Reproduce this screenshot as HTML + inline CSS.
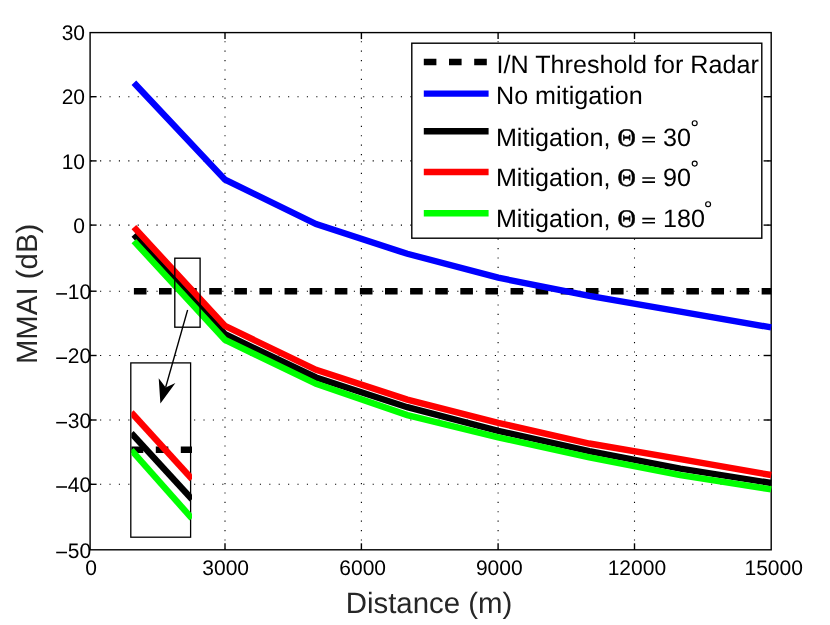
<!DOCTYPE html>
<html><head><meta charset="utf-8"><title>MMAI vs Distance</title>
<style>
html,body{margin:0;padding:0;background:#fff;}
body{width:830px;height:625px;overflow:hidden;}
svg{display:block;will-change:transform;}
text{font-family:"Liberation Sans",sans-serif;fill:#000;text-rendering:geometricPrecision;}
.tk{font-size:21px;}
.lg{font-size:25.15px;}
.ax{font-size:29.4px;fill:#262626;}
.th{font-family:"Liberation Serif",serif;font-size:25.4px;stroke:#000;stroke-width:0.5px;}
</style></head><body>
<svg width="830" height="625" viewBox="0 0 830 625">
<rect x="0" y="0" width="830" height="625" fill="#fff"/>
<g stroke="#000" stroke-width="1.1" stroke-dasharray="1.15 8.25" fill="none">
<line x1="225.0" y1="32.6" x2="225.0" y2="549.8" stroke-dashoffset="0.8"/>
<line x1="361.4" y1="32.6" x2="361.4" y2="549.8" stroke-dashoffset="0.8"/>
<line x1="498.1" y1="32.6" x2="498.1" y2="549.8" stroke-dashoffset="0.8"/>
<line x1="634.5" y1="32.6" x2="634.5" y2="549.8" stroke-dashoffset="0.8"/>
<line x1="90.1" y1="96.7" x2="771.2" y2="96.7" stroke-dashoffset="-0.55"/>
<line x1="90.1" y1="160.9" x2="771.2" y2="160.9" stroke-dashoffset="-0.55"/>
<line x1="90.1" y1="225.1" x2="771.2" y2="225.1" stroke-dashoffset="-0.55"/>
<line x1="90.1" y1="291.2" x2="771.2" y2="291.2" stroke-dashoffset="-0.55"/>
<line x1="90.1" y1="355.5" x2="771.2" y2="355.5" stroke-dashoffset="-0.55"/>
<line x1="90.1" y1="420.0" x2="771.2" y2="420.0" stroke-dashoffset="-0.55"/>
<line x1="90.1" y1="484.3" x2="771.2" y2="484.3" stroke-dashoffset="-0.55"/>
</g>
<g stroke="#000" stroke-width="1.4" fill="none">
<rect x="90.1" y="32.6" width="681.1" height="517.2"/>
<line x1="225.0" y1="549.8" x2="225.0" y2="543.3"/>
<line x1="225.0" y1="32.6" x2="225.0" y2="39.1"/>
<line x1="361.4" y1="549.8" x2="361.4" y2="543.3"/>
<line x1="361.4" y1="32.6" x2="361.4" y2="39.1"/>
<line x1="498.1" y1="549.8" x2="498.1" y2="543.3"/>
<line x1="498.1" y1="32.6" x2="498.1" y2="39.1"/>
<line x1="634.5" y1="549.8" x2="634.5" y2="543.3"/>
<line x1="634.5" y1="32.6" x2="634.5" y2="39.1"/>
<line x1="90.1" y1="96.7" x2="96.6" y2="96.7"/>
<line x1="771.2" y1="96.7" x2="763.6" y2="96.7"/>
<line x1="90.1" y1="160.9" x2="96.6" y2="160.9"/>
<line x1="771.2" y1="160.9" x2="763.6" y2="160.9"/>
<line x1="90.1" y1="225.1" x2="96.6" y2="225.1"/>
<line x1="771.2" y1="225.1" x2="763.6" y2="225.1"/>
<line x1="90.1" y1="291.2" x2="96.6" y2="291.2"/>
<line x1="771.2" y1="291.2" x2="763.6" y2="291.2"/>
<line x1="90.1" y1="355.5" x2="96.6" y2="355.5"/>
<line x1="771.2" y1="355.5" x2="763.6" y2="355.5"/>
<line x1="90.1" y1="420.0" x2="96.6" y2="420.0"/>
<line x1="771.2" y1="420.0" x2="763.6" y2="420.0"/>
<line x1="90.1" y1="484.3" x2="96.6" y2="484.3"/>
<line x1="771.2" y1="484.3" x2="763.6" y2="484.3"/>
</g>
<g fill="none" stroke-width="6.4" stroke-linejoin="miter" stroke-linecap="butt">
<line x1="133.9" y1="291.2" x2="771.2" y2="291.2" stroke="#000" stroke-dasharray="12.6 12.51"/>
<polyline points="133.9,82.8 225.0,179.6 316.1,224.1 407.3,253.8 498.2,277.7 589.3,295.9 680.3,311.6 771.2,327.4" stroke="#0000ff"/>
<polyline points="133.9,234.7 225.0,334.2 316.1,377.5 407.3,407.2 498.2,430.8 589.3,451.1 680.3,468.7 771.2,483.0" stroke="#000"/>
<polyline points="133.9,227.2 225.0,326.0 316.1,369.8 407.3,399.6 498.2,422.9 589.3,443.5 680.3,459.1 771.2,475.0" stroke="#ff0000"/>
<polyline points="133.9,241.1 225.0,339.9 316.1,383.8 407.3,415.1 498.2,437.3 589.3,457.4 680.3,475.1 771.2,489.4" stroke="#00ff00"/>
</g>
<rect x="174.8" y="258.2" width="25.3" height="69.0" fill="none" stroke="#000" stroke-width="1.35"/>
<rect x="130.8" y="362.9" width="59.8" height="174.3" fill="#fff" stroke="#000" stroke-width="1.3"/>
<clipPath id="ic"><rect x="131.4" y="362.9" width="60.6" height="174.3"/></clipPath>
<g fill="none" stroke-width="6.4" stroke-linecap="butt" clip-path="url(#ic)">
<line x1="130.8" y1="449.8" x2="193" y2="449.8" stroke="#000" stroke-dasharray="12.5 12.5"/>
<line x1="131.3" y1="433.2" x2="192.0" y2="499.3" stroke="#000"/>
<line x1="131.3" y1="412.5" x2="192.0" y2="479.0" stroke="#ff0000"/>
<line x1="131.3" y1="450.1" x2="191.9" y2="518.4" stroke="#00ff00"/>
</g>
<line x1="187.6" y1="310.0" x2="165.6" y2="387.5" stroke="#000" stroke-width="1.35"/>
<polygon points="160.4,403.6 158.7,378.3 165.7,387.4 175.4,383.1" fill="#000"/>
<rect x="411.8" y="43.2" width="350.0" height="195.0" fill="#fff" stroke="#000" stroke-width="1.4"/>
<g fill="none" stroke-width="6.4" stroke-linecap="butt">
<line x1="423.8" y1="62.0" x2="488.6" y2="62.0" stroke="#000" stroke-dasharray="12.6 12.6"/>
<line x1="423.8" y1="93.6" x2="488.6" y2="93.6" stroke="#0000ff"/>
<line x1="423.8" y1="131.3" x2="488.6" y2="131.3" stroke="#000"/>
<line x1="423.8" y1="172.0" x2="488.6" y2="172.0" stroke="#ff0000"/>
<line x1="423.8" y1="213.3" x2="488.6" y2="213.3" stroke="#00ff00"/>
</g>
<text class="lg" x="496.6" y="73.0">I/N Threshold for Radar</text>
<text class="lg" x="496.0" y="104.3">No mitigation</text>
<text class="lg" x="495.9" y="145.9">Mitigation,</text>
<text class="th" x="617.6" y="145.8">&#920;</text>
<path d="M642.3 137.6H655.0M642.3 141.7H655.0" stroke="#000" stroke-width="1.65" fill="none"/>
<text class="lg" x="663.0" y="145.9">30</text>
<circle cx="694.7" cy="123.2" r="2.45" fill="none" stroke="#000" stroke-width="1.2"/>
<text class="lg" x="495.9" y="186.3">Mitigation,</text>
<text class="th" x="617.6" y="186.2">&#920;</text>
<path d="M642.3 178.0H655.0M642.3 182.1H655.0" stroke="#000" stroke-width="1.65" fill="none"/>
<text class="lg" x="663.0" y="186.3">90</text>
<circle cx="694.7" cy="163.6" r="2.45" fill="none" stroke="#000" stroke-width="1.2"/>
<text class="lg" x="495.9" y="226.9">Mitigation,</text>
<text class="th" x="617.6" y="226.8">&#920;</text>
<path d="M642.3 218.6H655.0M642.3 222.7H655.0" stroke="#000" stroke-width="1.65" fill="none"/>
<text class="lg" x="663.0" y="226.9">180</text>
<circle cx="708.1" cy="204.2" r="2.45" fill="none" stroke="#000" stroke-width="1.2"/>
<text class="tk" text-anchor="middle" x="91.1" y="574.9">0</text>
<text class="tk" text-anchor="middle" x="225.7" y="574.9">3000</text>
<text class="tk" text-anchor="middle" x="362.7" y="574.9">6000</text>
<text class="tk" text-anchor="middle" x="499.3" y="574.9">9000</text>
<text class="tk" text-anchor="middle" x="636.9" y="574.9">12000</text>
<text class="tk" text-anchor="middle" x="773.7" y="574.9">15000</text>
<text class="tk" text-anchor="end" x="85.0" y="40.1">30</text>
<text class="tk" text-anchor="end" x="85.0" y="104.4">20</text>
<text class="tk" text-anchor="end" x="85.0" y="168.6">10</text>
<text class="tk" text-anchor="end" x="85.0" y="232.8">0</text>
<text class="tk" text-anchor="end" x="91.1" y="298.9">10</text>
<line x1="56.2" y1="293.9" x2="67.0" y2="293.9" stroke="#000" stroke-width="1.55"/>
<text class="tk" text-anchor="end" x="91.1" y="363.2">20</text>
<line x1="56.2" y1="358.2" x2="67.0" y2="358.2" stroke="#000" stroke-width="1.55"/>
<text class="tk" text-anchor="end" x="91.1" y="427.7">30</text>
<line x1="56.2" y1="422.7" x2="67.0" y2="422.7" stroke="#000" stroke-width="1.55"/>
<text class="tk" text-anchor="end" x="91.1" y="492.0">40</text>
<line x1="56.2" y1="487.0" x2="67.0" y2="487.0" stroke="#000" stroke-width="1.55"/>
<text class="tk" text-anchor="end" x="91.1" y="557.5">50</text>
<line x1="56.2" y1="552.5" x2="67.0" y2="552.5" stroke="#000" stroke-width="1.55"/>
<text class="ax" text-anchor="middle" x="429.0" y="612.8">Distance (m)</text>
<text class="ax" text-anchor="middle" transform="translate(37.3,293.9) rotate(-90)">MMAI (dB)</text>
</svg></body></html>
